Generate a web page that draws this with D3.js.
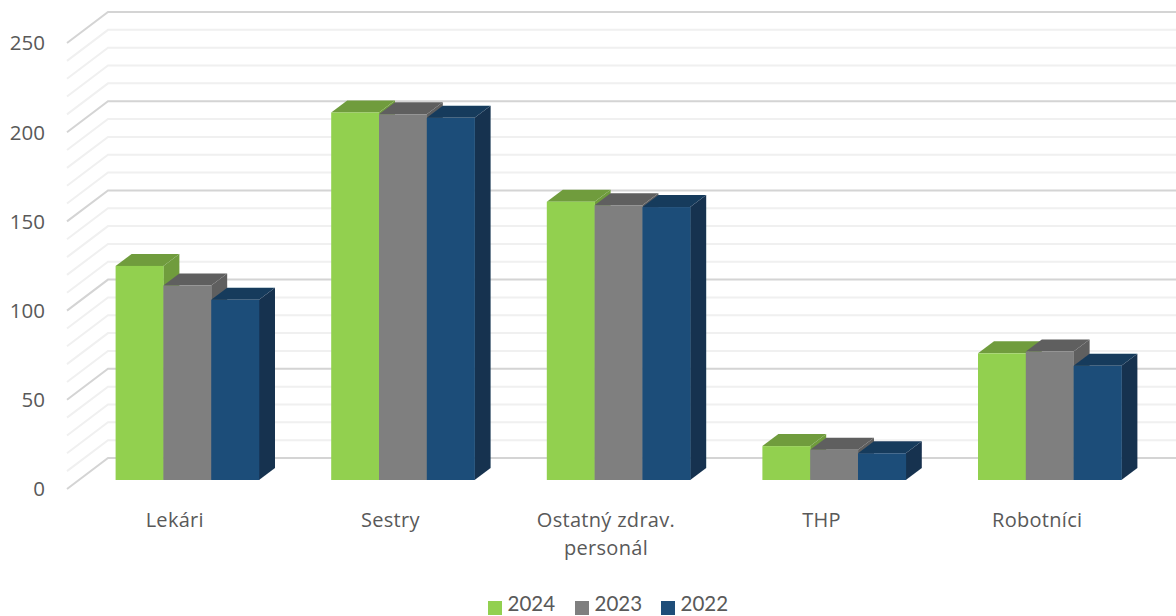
<!DOCTYPE html>
<html><head><meta charset="utf-8">
<script src="https://cdn.jsdelivr.net/npm/d3@7"></script>
<style>html,body{margin:0;padding:0;background:#fff}svg{display:block}text{font-family:"Open Sans",sans-serif;fill:#595959}text.leg{font-family:Lato,sans-serif}</style>
</head><body><div id="c"></div>
<script>
const categories = [["Lekári"],["Sestry"],["Ostatný zdrav.","personál"],["THP"],["Robotníci"]];
const seriesNames = ["2024","2023","2022"];
const values2024 = [120,206,156,19,71];
const values2023 = [109,205,154,17,72];
const values2022 = [101,203,153,15,64];
const colors = ["#92d050","#7f7f7f","#1f4e79"];
const topColors = ["#6f9c3d","#5f5f5f","#173b5c"];
const sideColors = ["#6f9c3d","#5f5f5f","#16324f"];
const yTicks = [0,50,100,150,200,250];
const minorTicks = d3.range(0,251,10);
const series = [values2024,values2023,values2022];

const W=1176,H=616;
const svg=d3.select("#c").append("svg").attr("width",W).attr("height",H);
const defs=svg.append("defs");
defs.append("filter").attr("id","soft").append("feGaussianBlur").attr("stdDeviation",0.5);
const y=d3.scaleLinear().domain([0,250]).range([489,43]);
const x=d3.scaleBand().domain(categories.map((d,i)=>i)).range([67,1145]);
const wallDx=41,wallDy=31;
const floorShift=12.5,floorDrop=9;
const barW=47.8,depthX=16,depthY=12;

const gGrid=svg.append("g").attr("filter","url(#soft)").attr("fill","none");
minorTicks.forEach(t=>{
  const major=t%50===0;
  gGrid.append("path")
    .attr("d",`M${x.range()[0]},${y(t)}L${x.range()[0]+wallDx},${y(t)-wallDy}L${W+5},${y(t)-wallDy}`)
    .attr("stroke",major?"#d4d4d4":"#f0f0f0").attr("stroke-width",2);
});

const gBars=svg.append("g").attr("filter","url(#soft)");
categories.forEach((c,ci)=>{
  const x0=x(ci)+x.bandwidth()/2+floorShift-barW*1.5;
  series.forEach((vals,si)=>{
    const l=x0+si*barW,r=l+barW,b=y(0)-floorDrop,t=y(vals[ci])-floorDrop;
    gBars.append("path").attr("fill",sideColors[si])
      .attr("d",`M${r},${b}L${r+depthX},${b-depthY}L${r+depthX},${t-depthY}L${r},${t}Z`);
    gBars.append("path").attr("fill",topColors[si])
      .attr("d",`M${l},${t}L${l+depthX},${t-depthY}L${r+depthX},${t-depthY}L${r},${t}Z`);
    gBars.append("rect").attr("fill",colors[si]).attr("x",l).attr("y",t).attr("width",barW+0.3).attr("height",b-t);
  });
});

svg.append("g").selectAll("text").data(yTicks).join("text")
  .attr("x",45).attr("y",d=>y(d)).attr("dy","0.36em").attr("text-anchor","end")
  .attr("font-size",20.5).text(d=>d);

const gx=svg.append("g");
categories.forEach((lines,i)=>{
  lines.forEach((s,j)=>{
    gx.append("text").attr("x",x(i)+x.bandwidth()/2).attr("y",520+j*28).attr("dy","0.36em")
      .attr("text-anchor","middle").attr("font-size",20).attr("letter-spacing",0.3).text(s);
  });
});

const legX=[488,575,661];
seriesNames.forEach((n,i)=>{
  svg.append("rect").attr("x",legX[i]).attr("y",601).attr("width",14).attr("height",14).attr("fill",colors[i]);
  svg.append("text").attr("class","leg").attr("x",legX[i]+19.5).attr("y",611.3).attr("font-size",20.5).text(n);
});
</script></body></html>
